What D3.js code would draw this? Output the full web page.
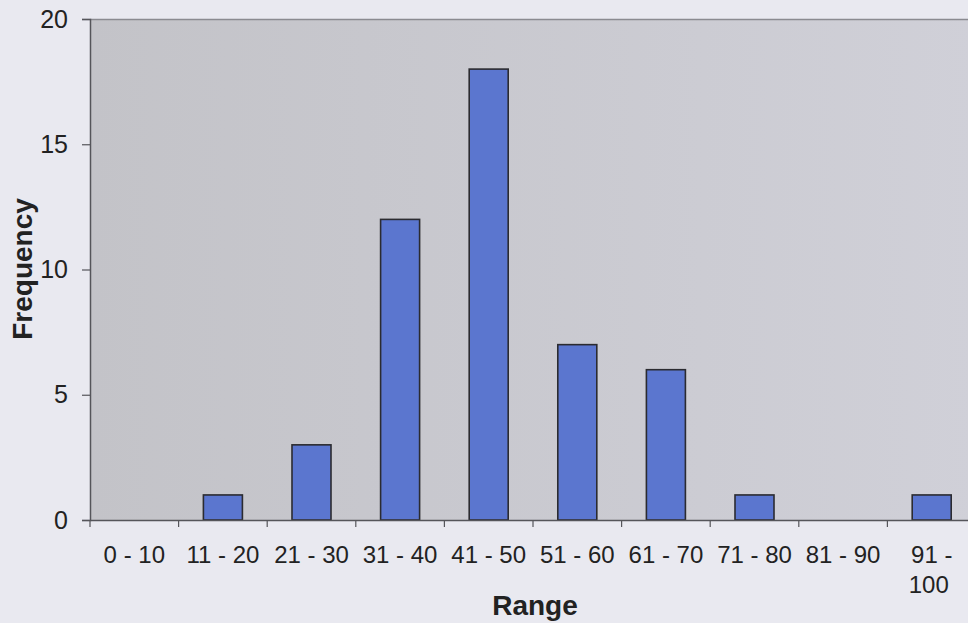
<!DOCTYPE html>
<html><head><meta charset="utf-8">
<script src="https://cdn.jsdelivr.net/npm/d3@7"></script>
<style>html,body{margin:0;padding:0;background:#e8e8ef;overflow:hidden}svg{display:block}</style>
</head><body>
<svg id="c" width="968" height="623"></svg>
<script>
const categories = ["0 - 10","11 - 20","21 - 30","31 - 40","41 - 50","51 - 60","61 - 70","71 - 80","81 - 90","91 - 100"];
const frequency = [0,1,3,12,18,7,6,1,0,1];
const yTicks = [0,5,10,15,20];
const xTitle = "Range", yTitle = "Frequency";

const svg = d3.select("#c");
const m = {left:90, top:19, bottom:520, right:976};
const FONT = "Liberation Sans, Arial, sans-serif";
const defs = svg.append("defs");
const g = defs.append("linearGradient").attr("id","pa").attr("x1","0").attr("x2","1").attr("y1","0").attr("y2","0");
g.append("stop").attr("offset","0").attr("stop-color","#c3c3c8");
g.append("stop").attr("offset","1").attr("stop-color","#d0d0d8");

svg.append("rect").attr("width",968).attr("height",623).attr("fill","#e9e9f0");

const xb = d3.scaleBand().domain(categories).range([m.left,m.right]);
const y = d3.scaleLinear().domain([0,20]).range([m.bottom,m.top]);

svg.append("rect").attr("x",m.left).attr("y",m.top).attr("width",m.right-m.left).attr("height",m.bottom-m.top).attr("fill","url(#pa)");
svg.append("line").attr("x1",m.left).attr("x2",m.right).attr("y1",m.top+0.5).attr("y2",m.top+0.5).attr("stroke","#8a8a90").attr("stroke-width",1.5);

svg.append("g").selectAll("rect").data(frequency).join("rect")
  .attr("x",(d,i)=>xb(categories[i])+xb.bandwidth()/2-19.5)
  .attr("width",39)
  .attr("y",d=>y(d)).attr("height",d=>y(0)-y(d))
  .attr("fill",d=>d>0?"#5b76cf":"none").attr("stroke",d=>d>0?"#2b2b30":"none").attr("stroke-width",1.6);

// y axis
const ya = svg.append("g").attr("transform",`translate(${m.left},0)`)
  .call(d3.axisLeft(y).tickValues(yTicks).tickSize(8).tickPadding(14));
ya.attr("font-size",25).attr("font-family",FONT);
ya.select(".domain").attr("stroke","#55555a").attr("stroke-width",1.5);
ya.selectAll(".tick line").attr("stroke","#55555a").attr("stroke-width",1.2);
ya.selectAll("text").attr("fill","#222");

// x axis with ticks on band boundaries
const xa = svg.append("g").attr("transform",`translate(0,${m.bottom})`)
  .call(d3.axisBottom(xb).tickSize(0).tickPadding(0));
xa.attr("font-size",24).attr("font-family",FONT);
xa.select(".domain").attr("stroke","#55555a").attr("stroke-width",1.5);
xa.selectAll(".tick line").remove();
const bounds = categories.map(c=>xb(c)).concat([m.right]);
xa.selectAll("line.b").data(bounds).join("line").attr("class","b")
  .attr("x1",d=>d).attr("x2",d=>d).attr("y1",0).attr("y2",7).attr("stroke","#55555a").attr("stroke-width",1.2);
xa.selectAll(".tick text").attr("fill","#222")
  .attr("dy",null).attr("y",43)
  .each(function(d){
    const t = d3.select(this);
    if (this.getComputedTextLength() > 80) {
      const parts = d.split(" - ");
      t.text(null);
      t.append("tspan").attr("x",0).attr("y",43).text(parts[0]+" -");
      t.append("tspan").attr("x",-3).attr("y",73).text(parts[1]);
    }
  });

svg.append("text").attr("x",535).attr("y",615).attr("text-anchor","middle")
  .attr("font-family",FONT).attr("font-weight","bold").attr("font-size",28).attr("fill","#222").text(xTitle);
svg.append("text").attr("transform","translate(32,269) rotate(-90)").attr("text-anchor","middle")
  .attr("font-family",FONT).attr("font-weight","bold").attr("font-size",28).attr("fill","#222").text(yTitle);
</script>
</body></html>
